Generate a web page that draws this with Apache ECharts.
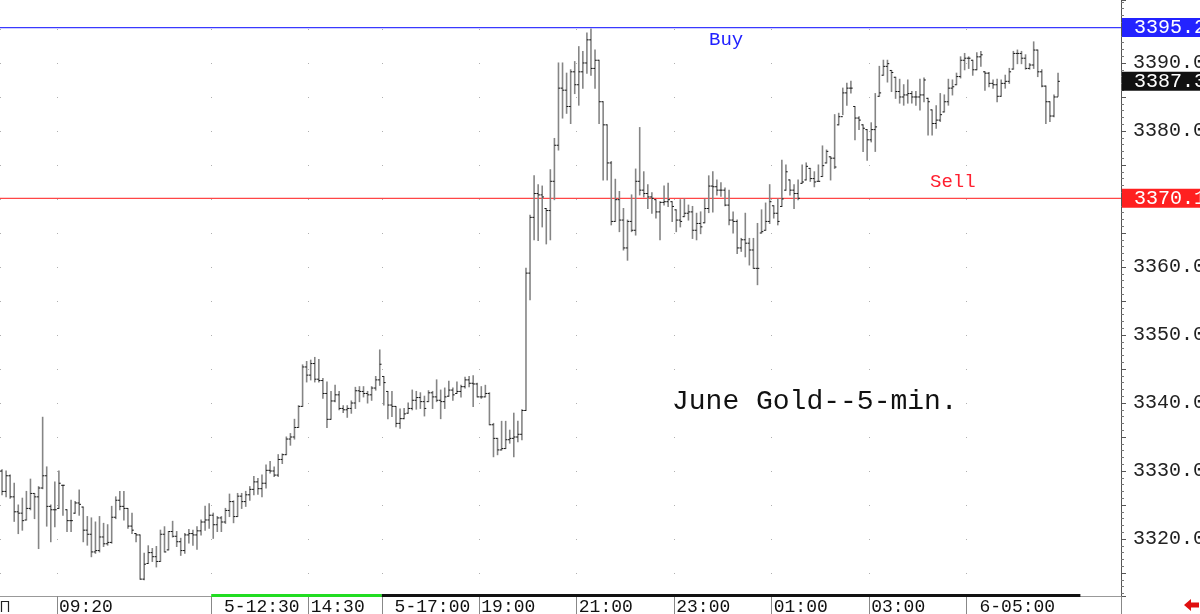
<!DOCTYPE html>
<html><head><meta charset="utf-8">
<script src="https://cdn.jsdelivr.net/npm/echarts@6/dist/echarts.min.js"></script>
<style>html,body{margin:0;padding:0;background:#fff}#c{width:1200px;height:614px}</style>
</head><body><div id="c"></div><script>
// ---- data (June Gold, 5-min OHLC) ----
const opens = [
3330.0,3327.0,3329.3,3326.2,3324.0,3323.8,3322.8,3324.5,3326.7,3326.2,
3327.5,3329.3,3324.8,3324.3,3324.5,3327.9,3324.3,3322.7,3323.8,3325.3,
3324.7,3321.3,3320.7,3318.1,3318.3,3320.3,3319.3,3319.5,3323.2,3325.7,
3324.8,3324.5,3321.9,3320.8,3320.6,3314.1,3316.4,3318.0,3317.4,3316.7,
3320.7,3318.4,3321.1,3320.4,3319.6,3318.3,3320.6,3320.8,3320.6,3321.2,
3322.5,3322.8,3323.5,3322.1,3323.1,3322.5,3324.2,3325.5,3323.3,3326.3,
3325.5,3326.5,3327.3,3328.4,3327.4,3328.2,3330.1,3330.0,3329.4,3331.7,
3332.4,3334.7,3335.0,3336.4,3339.5,3345.3,3344.1,3345.8,3343.5,3343.3,
3341.4,3337.6,3340.3,3341.2,3339.2,3339.0,3339.2,3340.0,3341.8,3341.7,
3341.4,3341.2,3342.2,3343.4,3343.9,3341.7,3339.7,3339.5,3337.0,3337.7,
3338.5,3339.2,3340.4,3340.8,3340.2,3340.2,3341.5,3340.9,3340.4,3340.2,
3341.0,3341.9,3341.4,3341.7,3342.4,3343.4,3342.9,3342.8,3340.9,3340.9,
3341.4,3336.8,3334.8,3333.1,3333.3,3334.6,3334.8,3335.0,3335.4,3338.9,
3359.1,3367.3,3370.8,3370.6,3368.6,3368.3,3372.6,3377.9,3386.3,3386.0,
3383.6,3388.7,3386.8,3388.7,3390.0,3393.4,3389.2,3390.4,3384.3,3380.9,
3375.3,3366.7,3369.9,3366.9,3362.8,3366.7,3365.4,3372.6,3371.3,3370.8,
3370.3,3369.9,3368.1,3369.5,3369.6,3369.6,3368.4,3366.9,3367.4,3367.9,
3368.1,3365.4,3366.4,3366.5,3368.6,3371.9,3371.8,3371.3,3371.3,3369.1,
3366.9,3366.7,3362.8,3364.0,3363.5,3362.5,3359.8,3365.0,3365.4,3366.7,
3369.0,3367.9,3368.9,3371.3,3372.8,3371.3,3370.8,3372.3,3372.8,3374.5,
3373.0,3372.6,3373.3,3375.3,3376.2,3376.0,3380.9,3382.1,3385.6,3386.3,
3383.6,3381.9,3380.9,3380.2,3378.7,3380.2,3385.1,3388.2,3389.5,3388.9,
3387.9,3385.8,3385.0,3385.3,3385.5,3385.0,3385.0,3385.3,3384.8,3383.1,
3381.1,3381.6,3382.8,3384.3,3386.3,3386.8,3388.0,3390.4,3390.7,3390.4,
3389.0,3390.9,3388.7,3388.5,3387.0,3386.8,3385.1,3387.0,3387.3,3389.1,
3391.4,3391.4,3390.7,3389.2,3389.7,3391.9,3388.7,3386.6,3384.3,3382.2,
3385.0
];
const highs = [
3330.2,3330.0,3329.4,3328.2,3325.0,3326.0,3327.0,3328.8,3326.7,3327.7,
3337.9,3330.6,3325.0,3328.4,3330.0,3327.9,3324.3,3325.7,3325.5,3327.2,
3324.7,3323.3,3323.1,3322.5,3323.3,3322.3,3322.1,3324.8,3326.2,3327.0,
3327.0,3324.5,3323.8,3320.8,3320.6,3317.9,3319.0,3318.6,3318.9,3321.3,
3321.8,3321.1,3322.6,3321.1,3320.1,3320.8,3321.4,3321.3,3321.8,3322.8,
3324.8,3325.2,3323.8,3323.3,3323.3,3324.5,3326.6,3325.6,3326.7,3326.7,
3327.0,3327.7,3329.2,3328.9,3329.4,3330.9,3331.4,3330.6,3332.4,3332.5,
3335.0,3335.5,3337.6,3339.6,3345.6,3346.1,3346.3,3346.7,3346.4,3343.6,
3343.1,3341.7,3342.6,3341.7,3339.6,3339.6,3340.3,3342.3,3342.4,3342.4,
3341.7,3342.4,3343.9,3347.8,3343.9,3341.7,3341.7,3339.5,3339.1,3339.2,
3340.0,3341.9,3341.7,3341.5,3341.0,3341.8,3341.7,3343.4,3341.9,3342.2,
3343.2,3342.2,3343.1,3342.6,3343.8,3343.9,3344.0,3342.9,3342.4,3342.6,
3341.5,3337.0,3334.8,3337.3,3337.3,3336.0,3338.5,3337.3,3339.0,3359.8,
3367.6,3373.4,3372.1,3371.9,3368.6,3374.3,3378.9,3390.0,3390.0,3388.5,
3389.0,3390.2,3392.4,3391.7,3394.4,3395.0,3391.9,3390.4,3384.3,3380.9,
3375.5,3372.9,3371.1,3368.6,3366.9,3370.6,3374.4,3380.5,3374.0,3372.1,
3370.9,3369.9,3369.6,3371.9,3372.3,3369.6,3368.4,3369.9,3370.0,3369.1,
3368.9,3367.9,3368.1,3370.0,3373.4,3374.0,3372.8,3372.4,3371.6,3371.3,
3368.1,3366.9,3364.2,3367.9,3364.2,3364.2,3366.4,3368.4,3369.4,3372.1,
3369.0,3370.0,3375.7,3375.0,3372.8,3372.1,3372.8,3375.0,3375.3,3374.5,
3374.0,3375.0,3377.8,3377.2,3376.2,3382.4,3382.6,3386.3,3387.0,3387.3,
3383.6,3382.1,3380.9,3380.2,3381.2,3385.5,3389.5,3390.4,3390.4,3388.9,
3387.9,3387.6,3386.8,3387.5,3385.8,3385.8,3387.6,3387.8,3384.8,3383.1,
3383.7,3385.5,3385.3,3387.6,3387.5,3388.5,3390.9,3391.4,3390.9,3390.4,
3391.5,3391.7,3388.7,3388.6,3387.5,3387.6,3387.5,3388.2,3389.2,3391.7,
3391.9,3391.7,3391.2,3389.9,3393.1,3391.9,3389.0,3386.6,3384.3,3385.3,
3388.5
];
const lows = [
3326.5,3326.2,3326.0,3322.6,3320.8,3321.3,3322.8,3324.3,3323.0,3318.6,
3327.4,3321.9,3319.6,3321.8,3324.5,3323.5,3321.1,3321.1,3323.8,3323.5,
3319.6,3319.1,3317.4,3317.9,3318.1,3318.9,3319.1,3319.4,3323.0,3324.3,
3322.8,3321.6,3320.8,3319.6,3314.1,3314.0,3316.4,3316.7,3315.9,3316.7,
3318.1,3318.4,3320.3,3318.9,3317.6,3317.9,3319.4,3319.1,3318.5,3320.6,
3321.3,3321.6,3320.1,3321.1,3321.1,3322.3,3323.3,3322.4,3323.3,3324.5,
3324.8,3325.7,3326.5,3326.6,3326.2,3327.5,3329.7,3329.2,3329.2,3331.1,
3332.4,3333.8,3334.7,3336.4,3339.5,3343.1,3343.4,3343.1,3343.1,3340.7,
3336.4,3337.6,3340.2,3339.0,3338.6,3337.9,3338.5,3339.2,3340.2,3340.9,
3340.0,3340.4,3341.9,3342.6,3339.7,3337.7,3338.0,3336.5,3336.3,3337.7,
3338.5,3339.0,3339.1,3339.2,3338.1,3340.2,3339.2,3340.2,3337.7,3339.2,
3341.0,3340.4,3341.4,3340.9,3342.2,3342.4,3339.5,3340.9,3340.7,3340.9,
3336.8,3332.1,3332.4,3333.1,3333.3,3334.1,3332.1,3334.3,3334.6,3338.9,
3355.2,3364.0,3363.9,3365.9,3363.4,3364.0,3369.9,3377.2,3381.9,3382.6,
3381.1,3385.5,3383.8,3386.3,3388.5,3388.2,3386.3,3381.1,3372.8,3372.8,
3366.2,3366.7,3365.2,3362.5,3361.0,3365.2,3364.7,3370.6,3370.3,3368.6,
3367.9,3367.2,3364.0,3369.1,3368.9,3366.7,3365.2,3365.9,3367.4,3366.9,
3364.2,3364.0,3364.9,3366.5,3368.0,3368.1,3370.6,3370.4,3369.0,3366.2,
3365.0,3362.0,3362.3,3361.5,3360.3,3359.8,3357.4,3365.0,3365.4,3366.4,
3367.2,3366.2,3368.9,3371.3,3370.6,3368.6,3369.9,3372.3,3372.8,3372.6,
3371.8,3372.6,3373.3,3375.3,3372.8,3374.5,3380.9,3382.4,3383.8,3385.6,
3378.7,3380.2,3377.0,3375.7,3378.4,3377.0,3385.1,3388.2,3387.2,3385.8,
3384.8,3384.1,3383.8,3384.1,3384.1,3383.8,3383.1,3384.3,3379.4,3379.4,
3380.4,3381.4,3382.8,3383.8,3385.3,3386.8,3387.8,3389.0,3389.2,3388.2,
3389.0,3389.5,3386.0,3386.5,3386.3,3384.3,3385.1,3386.3,3387.0,3389.1,
3389.9,3389.9,3389.1,3389.1,3389.2,3388.0,3386.5,3381.1,3381.4,3382.1,
3385.1
];
const closes = [
3327.0,3329.3,3326.2,3324.0,3323.8,3322.7,3324.5,3326.7,3326.2,3327.5,
3329.3,3324.8,3324.3,3324.3,3328.2,3327.9,3322.7,3322.7,3325.3,3325.1,
3321.3,3320.7,3318.1,3318.3,3320.3,3319.3,3319.5,3323.2,3325.7,3324.8,
3324.5,3321.9,3321.3,3320.6,3314.1,3316.3,3318.0,3317.4,3316.7,3320.7,
3318.1,3321.1,3320.4,3319.6,3318.3,3320.6,3320.8,3320.6,3321.2,3322.5,
3322.8,3323.5,3322.1,3323.1,3322.5,3324.2,3325.5,3323.3,3326.3,3325.5,
3326.5,3327.3,3328.4,3327.4,3328.2,3330.1,3330.0,3329.4,3331.7,3332.4,
3334.7,3335.0,3336.4,3339.5,3345.3,3344.1,3345.8,3343.5,3343.3,3341.4,
3337.6,3340.3,3341.2,3339.2,3339.0,3339.2,3340.0,3341.8,3341.7,3341.4,
3341.2,3342.2,3343.4,3345.7,3343.0,3339.7,3339.5,3337.0,3337.7,3338.4,
3339.2,3340.4,3340.8,3340.2,3339.2,3341.5,3340.9,3340.4,3340.2,3340.9,
3341.9,3341.2,3341.7,3342.4,3343.4,3342.9,3342.8,3340.9,3340.9,3341.4,
3336.8,3334.8,3333.1,3333.3,3334.6,3334.8,3335.0,3335.4,3338.9,3359.1,
3367.3,3370.8,3370.6,3370.3,3368.3,3372.6,3377.9,3386.3,3386.0,3383.6,
3388.7,3386.8,3388.7,3390.0,3393.4,3389.2,3390.4,3384.3,3380.9,3375.3,
3366.7,3369.9,3366.9,3362.8,3366.7,3365.4,3372.6,3371.3,3370.8,3370.3,
3370.1,3368.1,3369.5,3369.6,3369.9,3368.9,3366.9,3366.7,3367.9,3368.1,
3365.4,3366.4,3365.9,3368.6,3371.9,3371.8,3371.3,3371.3,3369.1,3366.9,
3366.7,3362.8,3364.0,3363.5,3362.5,3359.8,3359.8,3365.2,3366.7,3369.6,
3367.9,3366.7,3370.0,3374.0,3371.3,3370.8,3370.1,3372.5,3374.8,3373.0,
3372.5,3372.6,3374.9,3377.0,3376.0,3374.7,3382.1,3385.6,3386.3,3386.3,
3381.9,3381.6,3380.4,3378.7,3380.2,3380.6,3385.6,3389.5,3389.9,3388.6,
3385.8,3385.0,3385.3,3385.5,3385.0,3385.0,3385.3,3387.5,3384.3,3381.1,
3381.6,3382.4,3384.3,3386.3,3386.5,3388.0,3390.4,3390.7,3390.7,3389.0,
3390.9,3391.2,3388.5,3387.0,3386.8,3385.1,3387.0,3387.3,3388.7,3391.4,
3391.4,3390.7,3389.2,3389.7,3391.9,3388.7,3386.6,3384.3,3382.2,3385.0,
3387.3
];
const tickIdx = [14, 52, 76, 94, 118, 142, 166, 190, 214, 238];
const tickLabels = ['09:20', ' 5-12:30', '14:30', ' 5-17:00', '19:00', '21:00', '23:00', '01:00', '03:00', ' 6-05:00'];
const buyLevel = 3395.2;
const sellLevel = 3370.1;
const lastPrice = 3387.3;
const totalSlots = 276;          // 5-min slots on the axis (incl. empty right margin)
const sessionStart = '08:10';

// ---- build category list (5-min times, market pause 16:00-17:00) ----
const categories = [];
{
  let [hh, mm] = sessionStart.split(':').map(Number);
  let t = hh * 60 + mm;
  for (let i = 0; i < totalSlots; i++) {
    categories.push(String(Math.floor(t / 60)).padStart(2, '0') + ':' + String(t % 60).padStart(2, '0'));
    t += 5;
    if (t === 16 * 60) t = 17 * 60;
    t %= 1440;
  }
}
const ohlc = closes.map((c, i) => [i, opens[i], highs[i], lows[i], c]);

const MONO = "'Liberation Mono', 'DejaVu Sans Mono', monospace";
const chart = echarts.init(document.getElementById('c'), null, {renderer: 'canvas'});

function renderItem(params, api) {
  const i = api.value(0);
  const pH = api.coord([i, api.value(2)]);
  const x = pH[0];
  const yL = api.coord([i, api.value(3)])[1];
  const yO = api.coord([i, api.value(1)])[1];
  const yC = api.coord([i, api.value(4)])[1];
  return {
    type: 'group',
    children: [
      {type: 'line', shape: {x1: x, y1: pH[1] - 0.5, x2: x, y2: yL + 0.5}, style: {stroke: '#858585', lineWidth: 1.6}},
      {type: 'line', shape: {x1: x - 1.8, y1: yO, x2: x, y2: yO}, style: {stroke: '#111', lineWidth: 1}},
      {type: 'line', shape: {x1: x, y1: yC, x2: x + 1.8, y2: yC}, style: {stroke: '#111', lineWidth: 1}}
    ]
  };
}

// horizontal level: a 2-point line on a hidden 0..1 x-axis spanning the whole plot width
function levelSeries(value, lineColor, width) {
  return {
    type: 'line', xAxisIndex: 1, yAxisIndex: 0, silent: true, symbol: 'none',
    data: [[0, value], [1, value]],
    lineStyle: {color: lineColor, width: width},
    itemStyle: {color: lineColor},
    z: 3
  };
}

const option = {
  animation: false,
  backgroundColor: '#fff',
  grid: {left: 0, right: 79, top: 0, bottom: 18, containLabel: false, outerBoundsMode: 'none'},
  xAxis: [{
    type: 'category', data: categories, boundaryGap: true,
    axisLine: {show: true, onZero: false, lineStyle: {color: '#999', width: 1}},
    axisTick: {show: true, interval: (i) => tickIdx.includes(i), length: 18, lineStyle: {color: '#888'}},
    axisLabel: {
      interval: (i) => tickIdx.includes(i),
      formatter: (v, i) => { const k = tickIdx.indexOf(i); return k >= 0 ? tickLabels[k] : ''; },
      align: 'left', margin: 2, fontSize: 18, fontFamily: MONO, color: '#111', verticalAlign: 'top'
    },
    splitLine: {show: true, interval: (i) => i === 0 || tickIdx.includes(i),
      lineStyle: {color: '#b0b0b0', width: 1, type: [1, 33], dashOffset: 5}}
  }, {
    type: 'value', min: 0, max: 1, show: false, position: 'top',
    axisLine: {onZero: false}, splitLine: {show: false}
  }],
  yAxis: {
    type: 'value', position: 'right', min: 3311.62, max: 3399.26, splitNumber: 17,
    axisLine: {show: true, onZero: false, lineStyle: {color: '#555', width: 1}},
    axisTick: {show: true, length: 5, lineStyle: {color: '#555'}},
    minorTick: {show: true, splitNumber: 5, length: 3, lineStyle: {color: '#777'}},
    splitLine: {show: false},
    axisLabel: {
      formatter: v => (Math.abs(v % 10) < 1e-6 ? v.toFixed(1) : ''),
      margin: 12, fontSize: 20, fontFamily: MONO, color: '#222'
    }
  },
  series: [
    {
      type: 'custom', name: 'June Gold', renderItem: renderItem,
      dimensions: ['idx', 'open', 'high', 'low', 'close'],
      encode: {x: 0, y: [1, 2, 3, 4]},
      data: ohlc, silent: true, z: 4
    },
    levelSeries(buyLevel, '#3a3aff', 1.4),
    levelSeries(sellLevel, '#ff4646', 1.2)
  ],
  graphic: [
    {type: 'text', left: 709, top: 30, style: {text: 'Buy', fill: '#2020ff', font: "19px 'Liberation Mono', monospace"}},
    {type: 'text', left: 930, top: 172, style: {text: 'Sell', fill: '#ff2030', font: "19px 'Liberation Mono', monospace"}},
    {type: 'text', left: 672, top: 388, style: {text: 'June Gold--5-min.', fill: '#111', font: "28px 'Liberation Mono', monospace"}},
    {type: 'polyline', shape: {points: [[1.5, 612], [1.5, 601.5], [8.5, 601.5], [8.5, 612]]}, style: {stroke: '#222', lineWidth: 1.2, fill: null}},
    {type: 'polygon', shape: {points: [[1184, 605], [1191, 599], [1191, 602.5], [1199, 602.5], [1199, 607.5], [1191, 607.5], [1191, 611]]}, style: {fill: '#e01010'}}
  ]
};
chart.setOption(option);

// value boxes on the price axis + bottom navigation strip, positioned through the chart's own axes
const band = chart.convertToPixel({xAxisIndex: 0}, 1) - chart.convertToPixel({xAxisIndex: 0}, 0);
const edge = i => chart.convertToPixel({xAxisIndex: 0}, i) - band / 2;
const axisX = edge(totalSlots);
const valueBox = (v, bg) => ({
  type: 'text', z: 100, x: axisX + 1, y: chart.convertToPixel({yAxisIndex: 0}, v),
  style: {text: v.toFixed(1), fill: '#fff', backgroundColor: bg, padding: [1, 40, 0, 12],
    font: "20px 'Liberation Mono', monospace", lineHeight: 18, verticalAlign: 'middle', align: 'left'}
});
const greenFrom = 52, greenTo = 94, blackTo = 266;
chart.setOption({
  graphic: option.graphic.concat([
    valueBox(buyLevel, '#2323ff'),
    valueBox(sellLevel, '#ff2020'),
    valueBox(lastPrice, '#111111'),
    {type: 'rect', shape: {x: edge(greenFrom), y: 594, width: edge(greenTo) - edge(greenFrom), height: 3}, style: {fill: '#22dd22'}, z: 100},
    {type: 'rect', shape: {x: edge(greenTo), y: 594, width: edge(blackTo) - edge(greenTo), height: 3}, style: {fill: '#111'}, z: 100}
  ])
});
</script></body></html>
